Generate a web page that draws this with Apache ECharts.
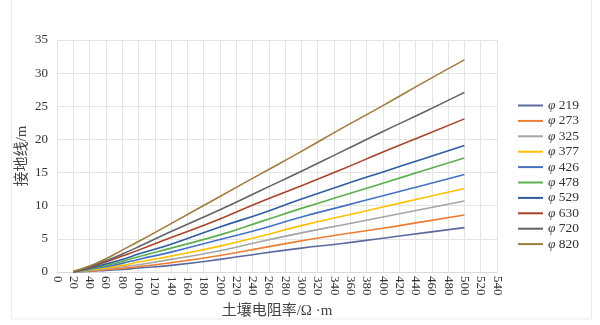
<!DOCTYPE html>
<html><head><meta charset="utf-8">
<script src="https://cdn.jsdelivr.net/npm/echarts@6/dist/echarts.min.js"></script>
<style>html,body{margin:0;padding:0;background:#fff}#c{width:600px;height:325px}</style>
</head><body><div id="c"></div>
<script>
const xValues = [20, 40, 60, 80, 100, 140, 200, 250, 300, 350, 400, 450, 500];
const names = ['φ 219','φ 273','φ 325','φ 377','φ 426','φ 478','φ 529','φ 630','φ 720','φ 820'];
const s219 = [0, 0.1, 0.25, 0.4, 0.6, 1.0, 1.9, 2.8, 3.6, 4.3, 5.1, 5.9, 6.7];
const s273 = [0, 0.15, 0.35, 0.55, 0.8, 1.4, 2.5, 3.6, 4.7, 5.7, 6.6, 7.6, 8.6];
const s325 = [0, 0.2, 0.5, 0.8, 1.1, 1.9, 3.2, 4.6, 5.9, 7.1, 8.3, 9.5, 10.7];
const s377 = [0, 0.3, 0.6, 1.0, 1.5, 2.4, 3.9, 5.4, 7.0, 8.4, 9.8, 11.2, 12.6];
const s426 = [0, 0.4, 0.8, 1.3, 1.9, 3.0, 4.9, 6.5, 8.3, 9.9, 11.5, 13.1, 14.7];
const s478 = [0, 0.5, 1.0, 1.6, 2.3, 3.6, 5.6, 7.6, 9.6, 11.5, 13.4, 15.3, 17.2];
const s529 = [0, 0.6, 1.2, 1.9, 2.7, 4.2, 6.8, 8.8, 11.0, 13.1, 15.1, 17.1, 19.1];
const s630 = [0, 0.7, 1.5, 2.4, 3.3, 5.2, 8.0, 10.6, 13.0, 15.5, 18.1, 20.6, 23.1];
const s720 = [0.05, 0.8, 1.7, 2.7, 3.8, 6.1, 9.4, 12.3, 15.2, 18.2, 21.2, 24.1, 27.1];
const s820 = [0.1, 0.9, 2.0, 3.3, 4.6, 7.3, 11.4, 14.8, 18.2, 21.7, 25.1, 28.6, 32.0];
const allSeries = [s219, s273, s325, s377, s426, s478, s529, s630, s720, s820];
const colors = ['#5A6AA0','#ED7D31','#A5A5A5','#FFC000','#4472C4','#5BB04D','#2E5C9E','#A9442C','#5F6466','#A07C3E'];

const serifCJK = 'Liberation Serif, Noto Sans CJK SC';
const chart = echarts.init(document.getElementById('c'));
chart.setOption({
  animation: false,
  color: colors,
  grid: {left: 57, right: 103, top: 40, bottom: 53},
  graphic: [{
    type: 'rect', silent: true, z: -10,
    shape: {x: 11.5, y: -2, width: 580, height: 321},
    style: {fill: 'none', stroke: '#EBEBEB', lineWidth: 1}
  }],
  legend: {
    orient: 'vertical', left: 513, top: 93,
    icon: 'rect', itemWidth: 25, itemHeight: 2, itemGap: 0.4,
    formatter: n => '{i|' + n.split(' ')[0] + '} ' + n.split(' ')[1],
    textStyle: {
      fontFamily: 'Liberation Serif', fontSize: 13.5, color: '#333', lineHeight: 15,
      rich: {i: {fontFamily: 'Liberation Serif', fontStyle: 'italic', fontSize: 13.5, color: '#333'}}
    },
    data: names
  },
  xAxis: {
    type: 'value', min: 0, max: 540, interval: 20,
    name: '土壤电阻率/Ω ·m', nameLocation: 'middle', nameGap: 25,
    nameTextStyle: {fontFamily: serifCJK, fontSize: 15, color: '#444'},
    axisLine: {show: true, lineStyle: {color: '#D9D9D9'}},
    axisTick: {show: false},
    axisLabel: {rotate: -90, fontFamily: 'Liberation Serif', fontSize: 13, color: '#333', margin: 4},
    splitLine: {show: true, lineStyle: {color: '#E4E4E4'}}
  },
  yAxis: {
    type: 'value', min: 0, max: 35, interval: 5,
    name: '接地线/m', nameLocation: 'middle', nameGap: 27, nameMoveOverlap: false,
    nameTextStyle: {fontFamily: serifCJK, fontSize: 15, color: '#444'},
    axisLine: {show: false}, axisTick: {show: false},
    axisLabel: {fontFamily: 'Liberation Serif', fontSize: 13, color: '#333', margin: 9},
    splitLine: {show: true, lineStyle: {color: '#E4E4E4'}}
  },
  series: names.map((n, i) => ({
    name: n, type: 'line', smooth: true, showSymbol: false,
    lineStyle: {width: 1.6},
    data: xValues.map((x, j) => [x, allSeries[i][j]])
  }))
});
</script></body></html>
